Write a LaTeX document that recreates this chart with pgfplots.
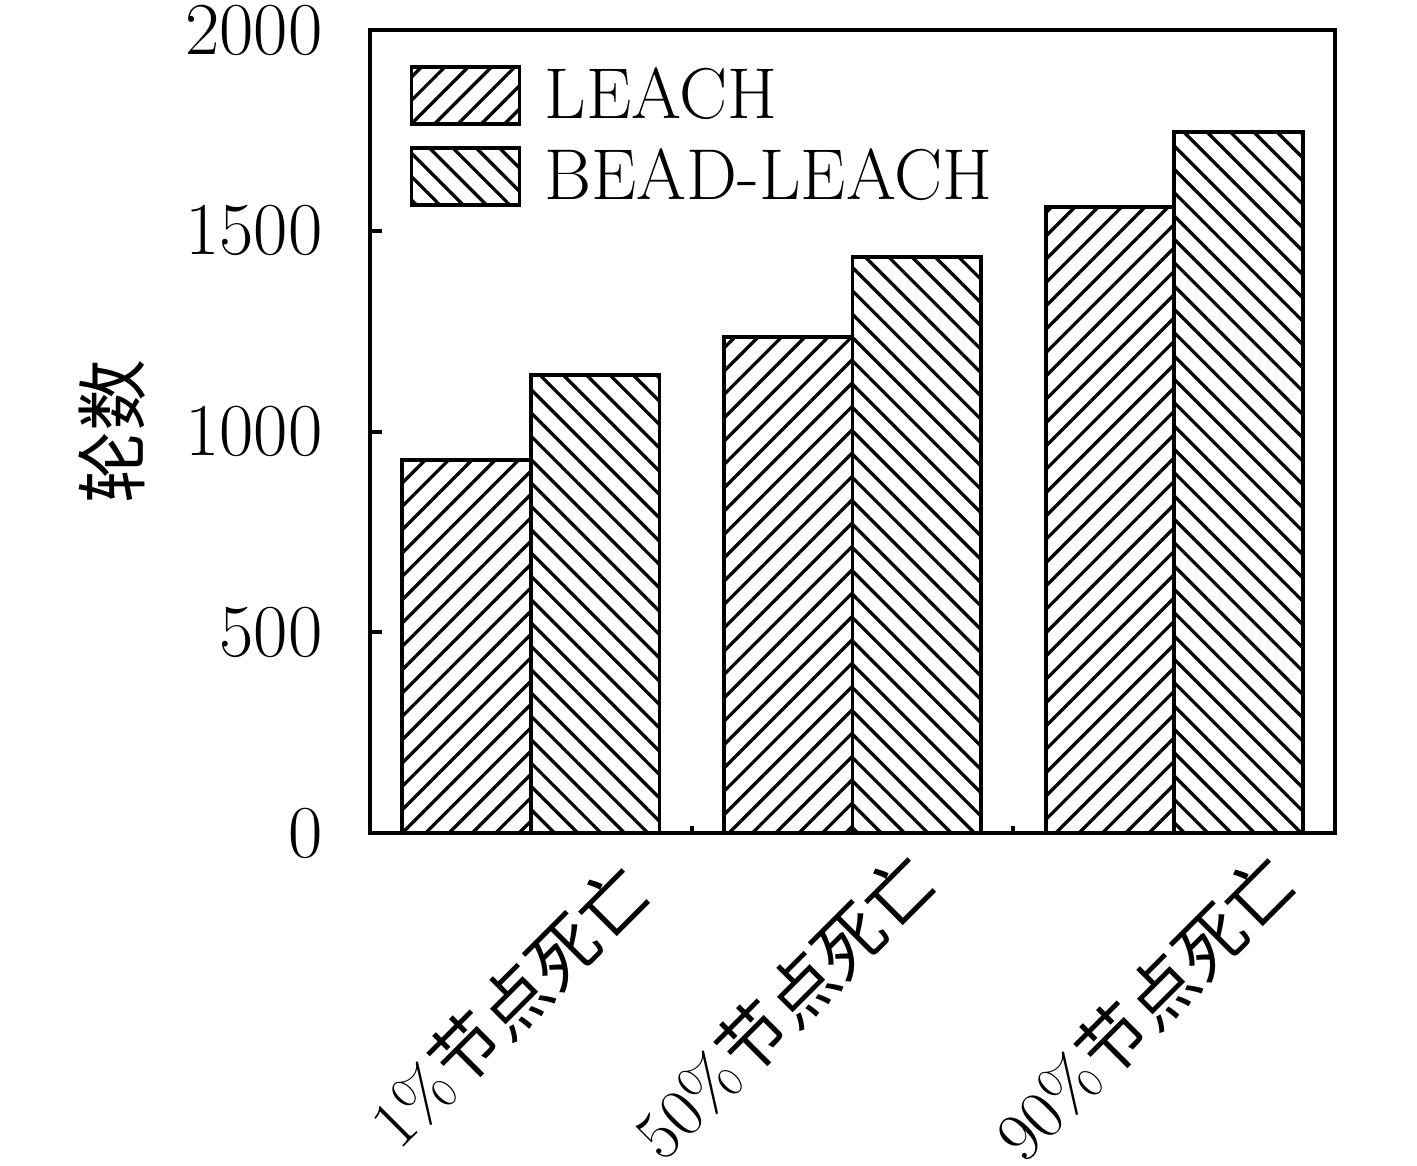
\documentclass[border=0pt]{standalone}
\usepackage{fontspec}
\newfontfamily\cjk{Noto Sans CJK SC}
\usepackage{pgfplots}
\pgfplotsset{compat=1.18}
\usetikzlibrary{patterns.meta}
\newcommand\bigf{\fontsize{24}{29}\selectfont}
\newcommand\labf{\fontsize{23}{28}\selectfont}

\begin{document}
\begin{tikzpicture}
\begin{axis}[name=ax,
    scale only axis, width=321.7pt, height=267.7pt,
    xmin=-0.5, xmax=2.5, ymin=0, ymax=2000,
    clip=false,
    axis line style={line width=1.3pt},
    tick align=inside, ytick pos=left, xtick pos=bottom,
    ytick={0,500,1000,1500,2000},
    /pgf/number format/1000 sep={},
    xtick=\empty,
    extra x ticks={0.5,1.5}, extra x tick labels={},
    extra x tick style={major tick length=2.3pt},
    major tick length=4pt,
    tick style={line width=1.3pt, black},
    yticklabel style={font=\bigf, xshift=-12.3pt, inner ysep=0pt},
    ylabel={\cjk 轮数},
    ylabel style={font=\bigf, at={(axis description cs:-0.267,0.5)}, anchor=center},
    legend image code/.code={\draw[#1, line width=1.3pt] (0pt,-9.5pt) rectangle (36pt,9.5pt);},
    legend style={draw=none, fill=none, inner sep=0pt, font=\bigf,
        at={(rel axis cs:0,1)}, anchor=north west, xshift=13pt, yshift=-10.3pt,
        row sep=4.7pt, legend cell align=left,
        nodes={inner xsep=7.7pt}},
]
% LEACH
\addplot[ybar, bar width=0.4, bar shift=-0.2, draw=black, line width=1.3pt,
    pattern={Lines[angle=45, distance=5.5pt, line width=1.1pt]}, pattern color=black]
    coordinates {(0,930) (1,1235) (2,1560)};
% BEAD-LEACH
\addplot[ybar, bar width=0.4, bar shift=0.2, draw=black, line width=1.3pt,
    pattern={Lines[angle=-45, distance=5.5pt, line width=1.1pt]}, pattern color=black]
    coordinates {(0,1140) (1,1435) (2,1745)};
\legend{LEACH, BEAD-LEACH}

\node[rotate=45, font=\labf, inner sep=0pt] at ([yshift=-57.5pt]axis cs:-0.068,0) {1\%{\cjk 节点死亡}};
\node[rotate=45, font=\labf, inner sep=0pt] at ([yshift=-57.5pt]axis cs:0.787,0) {50\%{\cjk 节点死亡}};
\node[rotate=45, font=\labf, inner sep=0pt] at ([yshift=-58pt]axis cs:1.907,0) {90\%{\cjk 节点死亡}};
\end{axis}
\pgfresetboundingbox
\path ([xshift=-123.3pt,yshift=-110.7pt]ax.south west) rectangle ([xshift=27.3pt,yshift=10pt]ax.north east);
\end{tikzpicture}
\end{document}
